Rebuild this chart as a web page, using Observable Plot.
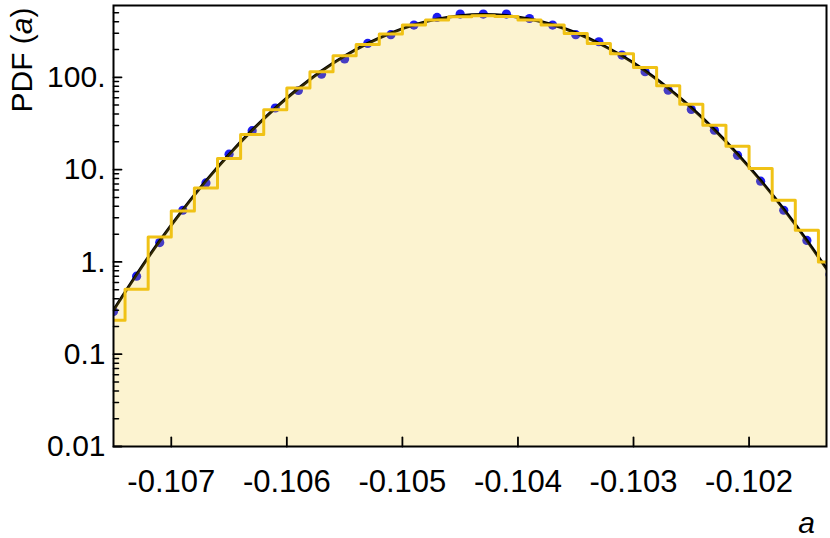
<!DOCTYPE html>
<html><head><meta charset="utf-8">
<script src="https://cdn.jsdelivr.net/npm/d3@7"></script>
<script src="https://cdn.jsdelivr.net/npm/@observablehq/plot@0.6"></script>
<style>html,body{margin:0;padding:0;background:#fff;} svg{display:block}</style>
</head><body><div id="chart"></div>
<script>
// Histogram: left bin edges (width 0.0002) and heights
const binWidth = 0.0002;
const binEdges = [-0.1076,-0.1074,-0.1072,-0.1070,-0.1068,-0.1066,-0.1064,-0.1062,-0.1060,-0.1058,-0.1056,-0.1054,-0.1052,-0.1050,-0.1048,-0.1046,-0.1044,-0.1042,-0.1040,-0.1038,-0.1036,-0.1034,-0.1032,-0.1030,-0.1028,-0.1026,-0.1024,-0.1022,-0.1020,-0.1018,-0.1016,-0.1014];
const binValues = [0.233,0.505,1.86,3.56,6.34,13.2,24,44.5,76.5,115,171,227,294,368,417,453,465,455,417,368,299,233,180,128,80.9,51.2,30.3,17.9,10.3,4.65,2.20,1.0];

// Blue points
const dotA = [-0.1075,-0.1073,-0.1071,-0.1069,-0.1067,-0.1065,-0.1063,-0.1061,-0.1059,-0.1057,-0.1055,-0.1053,-0.1051,-0.1049,-0.1047,-0.1045,-0.1043,-0.1041,-0.1039,-0.1037,-0.1035,-0.1033,-0.1031,-0.1029,-0.1027,-0.1025,-0.1023,-0.1021,-0.1019,-0.1017,-0.1015,-0.1013];
const dotPdf = [0.29,0.70,1.62,3.63,7.18,14.7,26.4,46.5,72,108,158,233,290,368,446,484,484,484,434,368,290,243,174,115,72.6,44.9,26.7,14.3,7.5,3.63,1.71,0.73];

// Black curve (read at the same abscissas)
const curveA = dotA;
const curvePdf = [0.30,0.73,1.69,3.67,7.55,14.6,26.8,46.4,75.7,117,170,233,302,370,427,466,480,467,428,371,304,234,171,118,76.4,46.9,27.1,14.8,7.65,3.73,1.71,0.744];

// Axes
const xDomain = [-0.1075, -0.10133];
const yDomain = [0.01, 600];
const xTicks = [-0.107,-0.106,-0.105,-0.104,-0.103,-0.102];
const xTickLabels = ["-0.107","-0.106","-0.105","-0.104","-0.103","-0.102"];
const yTicks = [0.01,0.1,1,10,100];
const yTickLabels = ["0.01","0.1","1.","10.","100."];
const yMinorTicks = [0.02,0.03,0.04,0.05,0.06,0.07,0.08,0.09,0.2,0.3,0.4,0.5,0.6,0.7,0.8,0.9,2,3,4,5,6,7,8,9,20,30,40,50,60,70,80,90,200,300,400,500];

const hist = binEdges.map((e, i) => ({a: e, v: binValues[i]}));
hist.push({a: binEdges[binEdges.length - 1] + binWidth, v: binValues[binValues.length - 1]});
const dots = dotA.map((a, i) => ({a, v: dotPdf[i]}));
const curve = curveA.map((a, i) => ({a, v: curvePdf[i]}));

const tickShape = {draw(ctx, l) { ctx.moveTo(0, 0); ctx.lineTo(0, -l); }};
const font = "'Liberation Sans', Arial, Helvetica, sans-serif";
const yellow = "rgb(240,194,22)";

const chart = Plot.plot({
  width: 830, height: 538,
  marginLeft: 113, marginRight: 4, marginTop: 5, marginBottom: 92,
  style: {fontFamily: font, background: "white", overflow: "visible"},
  x: {domain: xDomain, axis: null},
  y: {type: "log", domain: yDomain, axis: null},
  marks: [
    Plot.dot(dots, {x: "a", y: "v", r: 4.6, fill: "#1c1cf0", stroke: "none", clip: true}),
    Plot.line(curve, {x: "a", y: "v", curve: "natural", stroke: "black", strokeWidth: 3, clip: true}),
    Plot.areaY(curve, {x: "a", y1: yDomain[0], y2: "v", curve: "natural", fill: yellow, fillOpacity: 0.2, clip: true}),
    Plot.line(hist, {x: "a", y: "v", curve: "step-after", stroke: yellow, strokeWidth: 3, clip: true}),
    Plot.vector(yTicks, {x: xDomain[0], y: d => d, rotate: 90, length: 8, anchor: "start", shape: tickShape, stroke: "black", strokeWidth: 1.8}),
    Plot.vector(yMinorTicks, {x: xDomain[0], y: d => d, rotate: 90, length: 5, anchor: "start", shape: tickShape, stroke: "black", strokeWidth: 1.5}),
    Plot.vector(xTicks, {x: d => d, y: yDomain[0], length: 9, anchor: "start", shape: tickShape, stroke: "black", strokeWidth: 1.8}),
    Plot.text(yTicks, {x: xDomain[0], y: d => d, text: (d, i) => yTickLabels[i], textAnchor: "end", dx: -8, fontSize: 30, fill: "black"}),
    Plot.text(xTicks, {x: d => d, y: yDomain[0], text: (d, i) => xTickLabels[i], dy: 45, lineAnchor: "bottom", fontSize: 31, fill: "black"}),
    Plot.text(["a"], {frameAnchor: "bottom-right", text: d => d, dx: -20, dy: 86, lineAnchor: "bottom", textAnchor: "middle", fontStyle: "italic", fontSize: 30, fill: "black"}),
    Plot.frame({stroke: "black", strokeWidth: 2})
  ]
});

const svg = d3.select(chart);
const yl = svg.append("text")
  .attr("transform", "translate(32,60) rotate(-90)")
  .attr("text-anchor", "middle")
  .attr("font-family", font)
  .attr("font-size", 30)
  .attr("fill", "black");
yl.append("tspan").text("PDF (");
yl.append("tspan").attr("font-style", "italic").text("a");
yl.append("tspan").text(")");

document.getElementById("chart").appendChild(chart);
</script>
</body></html>
